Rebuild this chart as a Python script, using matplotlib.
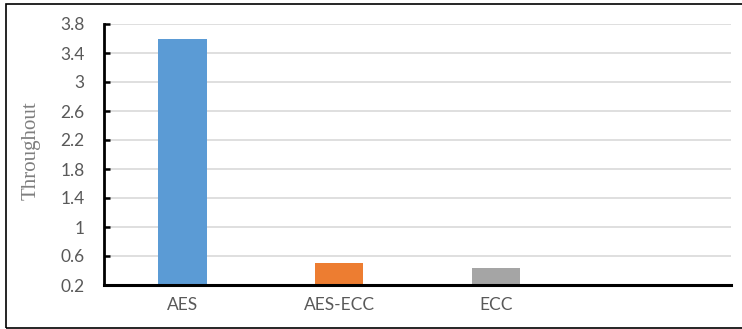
import numpy as np
import matplotlib
matplotlib.use("Agg")
import matplotlib.pyplot as plt
from matplotlib.patches import Rectangle

categories = ["AES", "AES-ECC", "ECC", ""]
values = [3.6, 0.51, 0.44, np.nan]
colors = ["#5b9bd5", "#ed7d31", "#a5a5a5", "#ffc000"]
yticks = [0.2, 0.6, 1, 1.4, 1.8, 2.2, 2.6, 3, 3.4, 3.8]
ytick_labels = ["0.2", "0.6", "1", "1.4", "1.8", "2.2", "2.6", "3", "3.4", "3.8"]

fig = plt.figure(figsize=(7.42, 3.29), dpi=100)
ax = fig.add_axes([104 / 742, 1 - 285 / 329, 627 / 742, 261 / 329])

x = np.arange(len(categories))
base = 0.2
heights = [v - base if not np.isnan(v) else 0 for v in values]
ax.bar(x, heights, bottom=base, width=0.31, color=colors, zorder=3)

ax.set_xlim(-0.5, len(categories) - 0.5)
ax.set_ylim(0.2, 3.8)
ax.set_yticks(yticks)
ax.set_yticklabels(ytick_labels)
ax.set_xticks(x)
ax.set_xticklabels(categories)

ax.grid(axis="y", color="#d9d9d9", linewidth=1.2, zorder=0)
ax.set_axisbelow(True)

for s in ["top", "right"]:
    ax.spines[s].set_visible(False)
ax.spines["left"].set_linewidth(2.0)
ax.spines["bottom"].set_linewidth(2.2)
ax.spines["left"].set_zorder(4)
ax.spines["bottom"].set_zorder(4)

ax.tick_params(axis="y", direction="in", length=4.5, width=1.8, pad=14,
               labelsize=12.5, labelcolor="#595959")
ax.tick_params(axis="x", length=0, pad=9, labelsize=12.5, labelcolor="#595959")
for lab in ax.get_xticklabels() + ax.get_yticklabels():
    lab.set_fontfamily("Lato")

fig.text(31 / 742, 1 - 151 / 329, "Throughout", rotation=90, ha="center", va="center",
         fontsize=15, color="#7f7f7f", family="Liberation Serif")

# border around the chart area
fig.patches.append(Rectangle((6 / 742, 1 / 329), 1.0, 1 - 5 / 329, transform=fig.transFigure,
                             fill=False, edgecolor="black", linewidth=1.2))

fig.savefig("out.png", dpi=100)
